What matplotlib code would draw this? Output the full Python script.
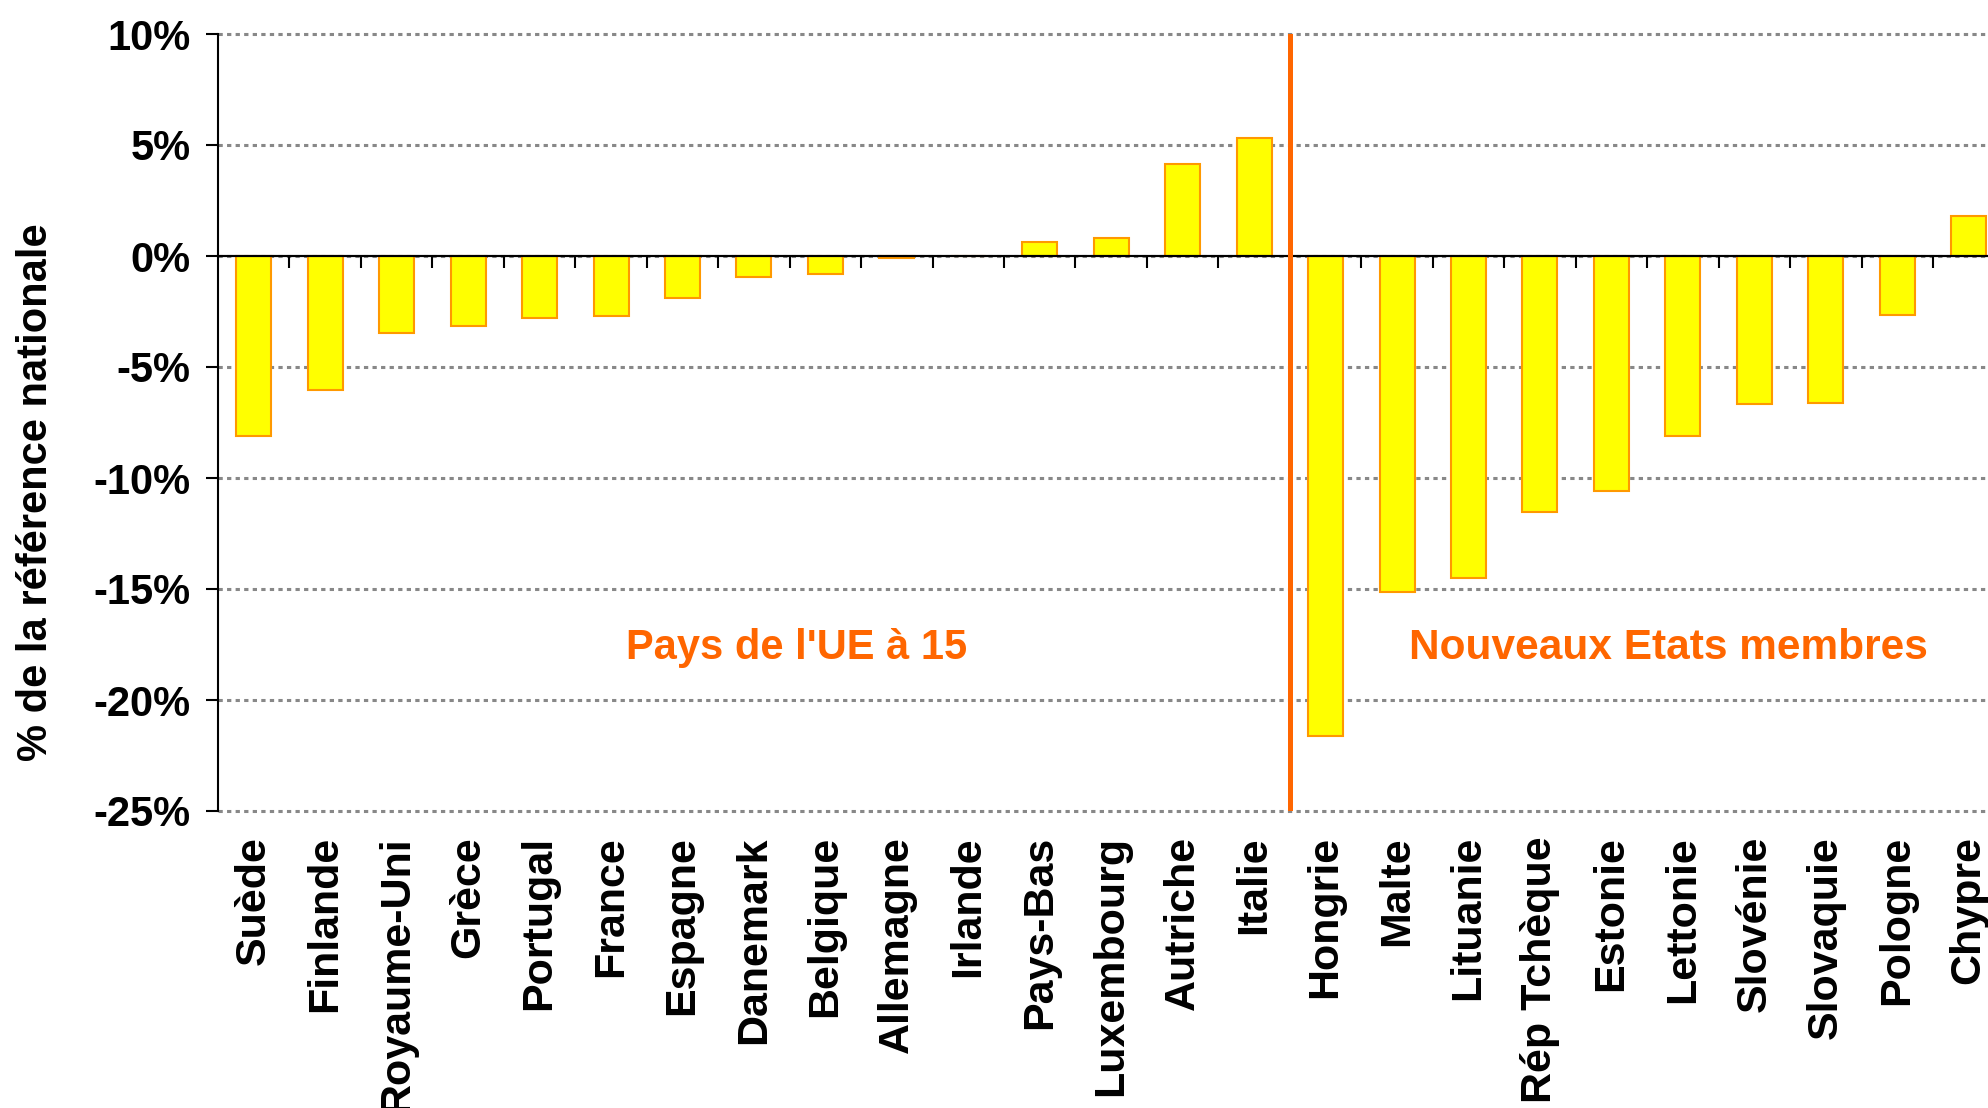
import matplotlib
matplotlib.use('Agg')
import matplotlib.pyplot as plt

# données (écart en % de la référence nationale)
pays_ue15 = ['Suède', 'Finlande', 'Royaume-Uni', 'Grèce', 'Portugal', 'France',
             'Espagne', 'Danemark', 'Belgique', 'Allemagne', 'Irlande',
             'Pays-Bas', 'Luxembourg', 'Autriche', 'Italie']
valeurs_ue15 = [-8.1, -6.05, -3.45, -3.15, -2.8, -2.72, -1.9, -0.93, -0.83,
                -0.1, 0.0, 0.62, 0.82, 4.13, 5.31]

pays_nem = ['Hongrie', 'Malte', 'Lituanie', 'Rép Tchèque', 'Estonie',
            'Lettonie', 'Slovénie', 'Slovaquie', 'Pologne', 'Chypre']
valeurs_nem = [-21.6, -15.13, -14.5, -11.55, -10.58, -8.13, -6.67, -6.6,
               -2.64, 1.81]

yticks = [-25, -20, -15, -10, -5, 0, 5, 10]
ytick_labels = ['-25%', '-20%', '-15%', '-10%', '-5%', '0%', '5%', '10%']

groupe_ue15 = "Pays de l'UE à 15"
groupe_nem = 'Nouveaux Etats membres'
ylabel = '% de la référence nationale'

plt.rcParams['font.family'] = ['Liberation Sans', 'DejaVu Sans']
plt.rcParams['font.weight'] = 'bold'

orange = '#FF6600'

pays = pays_ue15 + pays_nem
valeurs = valeurs_ue15 + valeurs_nem
x = list(range(len(pays)))

fig = plt.figure(figsize=(19.88, 11.08), dpi=100)
ax = fig.add_axes([218 / 1988, 297 / 1108, 1 - 218 / 1988, 777 / 1108])

ax.bar(x, valeurs, width=0.49, color='#FFFF00', edgecolor='#FF9900',
       linewidth=1.5, zorder=3)

ax.set_xlim(-0.5, 24.27)
ax.set_ylim(yticks[0], yticks[-1])

# grille pointillée
ax.set_yticks(yticks)
ax.set_yticklabels(ytick_labels, fontsize=30, fontweight='bold')
ax.yaxis.grid(True, linestyle=(0, (1.4, 1.4)), color='#888888', linewidth=2.2,
              zorder=0)
for gl in ax.get_ygridlines():
    gl.set_clip_on(False)
ax.set_axisbelow(True)
ax.tick_params(axis='y', direction='out', length=8.6, width=1.5, pad=11)

# étiquettes des pays en bas
ax.set_xticks(x)
ax.set_xticklabels(pays, rotation=90, fontsize=31, fontweight='bold')
ax.tick_params(axis='x', length=0, pad=18)

for s in ['top', 'right', 'bottom']:
    ax.spines[s].set_visible(False)
ax.spines['left'].set_linewidth(1.5)

# axe horizontal à 0 avec graduations entre les pays
y0 = (0 - yticks[0]) / (yticks[-1] - yticks[0])
sec = ax.secondary_xaxis(y0)
sec.set_alignment('bottom')
sec.set_xticks([i + 0.5 for i in x[:-1]])
sec.tick_params(direction='out', length=8.6, width=1.5, labelbottom=False,
                labeltop=False)
sec.spines['bottom'].set_linewidth(1.5)
sec.spines['bottom'].set_color('black')
sec.set_zorder(5)
ax.axhline(0, color='black', linewidth=1.5, zorder=5)

# séparation des deux groupes
ax.axvline(len(pays_ue15) - 0.5, color=orange, linewidth=3.6, zorder=6)

ax.text(7.6, -17.66, groupe_ue15, color=orange, fontsize=30,
        fontweight='bold', ha='center', va='center')
ax.text(19.8, -17.66, groupe_nem, color=orange, fontsize=30.5,
        fontweight='bold', ha='center', va='center')

fig.text(36 / 1988, 616 / 1108, ylabel, rotation=90, fontsize=30,
         fontweight='bold', ha='center', va='center')

fig.savefig('out.png', dpi=100)
